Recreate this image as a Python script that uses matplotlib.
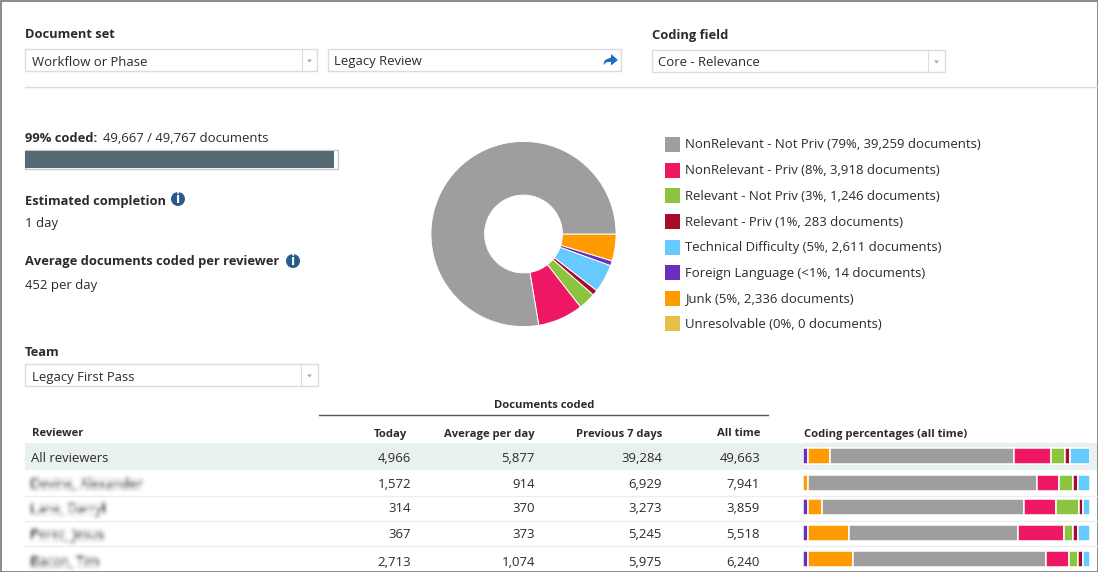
import numpy as np
import matplotlib
matplotlib.use("Agg")
import matplotlib.pyplot as plt
from matplotlib.patches import Rectangle, Circle, Polygon

plt.rcParams["font.family"] = ["Open Sans", "DejaVu Sans"]

W, H = 1098, 572
TEXT = "#2b2b2b"
LINE = "#d9dcdc"

# Legend / pie
CATEGORIES = ["NonRelevant - Not Priv", "NonRelevant - Priv", "Relevant - Not Priv",
              "Relevant - Priv", "Technical Difficulty", "Foreign Language", "Junk", "Unresolvable"]
CAT_NOTES = ["79%, 39,259 documents", "8%, 3,918 documents", "3%, 1,246 documents",
             "1%, 283 documents", "5%, 2,611 documents", "<1%, 14 documents",
             "5%, 2,336 documents", "0%, 0 documents"]
CAT_COLORS = ["#9e9e9e", "#ee1763", "#8bc540", "#a50d2a", "#66caff", "#6a2fbb", "#ff9b00", "#e3c148"]
# slice shares as drawn in the picture
PIE_SHARES = [77.4, 7.9, 3.0, 0.95, 4.9, 0.85, 4.7, 0.0]

# Table
REVIEWERS = ["All reviewers", "Devine, Alexander", "Lane, Darryl", "Perez, Jesus", "Bacon, Tim"]
TODAY = ["4,966", "1,572", "314", "367", "2,713"]
AVG_PER_DAY = ["5,877", "914", "370", "373", "1,074"]
PREV_7_DAYS = ["39,284", "6,929", "3,273", "5,245", "5,975"]
ALL_TIME = ["49,663", "7,941", "3,859", "5,518", "6,240"]

# Coding percentages per reviewer, drawn left to right in this order
SEG_ORDER = ["Foreign Language", "Junk", "NonRelevant - Not Priv", "NonRelevant - Priv",
             "Relevant - Not Priv", "Relevant - Priv", "Technical Difficulty"]
SEG_FOREIGN = [1.7, 0.0, 1.7, 1.7, 1.7]
SEG_JUNK = [7.8, 1.7, 4.8, 14.4, 15.7]
SEG_NOT_PRIV = [64.1, 79.7, 70.3, 58.9, 67.2]
SEG_PRIV = [12.7, 7.8, 11.3, 16.0, 8.1]
SEG_REL = [4.8, 4.8, 7.8, 3.0, 3.1]
SEG_REL_PRIV = [1.7, 1.7, 1.7, 1.7, 1.7]
SEG_TECH = [7.2, 4.2, 2.4, 4.2, 2.4]

ROW_TEXT_Y = [457, 483, 508, 534, 561]
ROW_BAR_Y = [456, 483, 507, 533, 559]


def gauss_filter(sigma, gain):
  """agg_filter that blurs the text it is set on, gain keeps the blob visible."""
  def _filter(image, dpi):
    pad = int(sigma * 3)
    x = np.arange(-pad, pad + 1)
    kernel = np.exp(-x**2 / (2.0 * sigma**2))
    kernel /= kernel.sum()
    out = np.pad(image, ((pad, pad), (pad, pad), (0, 0)))
    for axis in (0, 1):
      out = np.apply_along_axis(lambda m: np.convolve(m, kernel, mode="same"), axis, out)
    out[..., 3] = np.clip(out[..., 3] * gain, 0, 1)
    return out, -pad, -pad
  return _filter


def label(x, y, s, bold=False, ha="left", size=None, color=TEXT):
  # y is the visual middle of the line, text sits on a baseline so rows stay even
  if size is None:
    size = 9.3 if bold else 9.45
  return ax.text(x, y + 4.5, s, ha=ha, va="baseline", fontsize=size, color=color,
                 fontweight="bold" if bold else "normal")


def dropdown(x0, x1, y0, y1, text, divider=None, text_dy=0.0):
  ax.add_patch(Rectangle((x0, y0), x1 - x0, y1 - y0, fc="white", ec="#dcdcdc", lw=1.0))
  label(x0 + 6.5, (y0 + y1) / 2 + text_dy, text)
  if divider is not None:
    ax.plot([divider, divider], [y0, y1], color="#dcdcdc", lw=0.8)
    cx, cy = (divider + x1) / 2, (y0 + y1) / 2 + 0.5
    ax.add_patch(Polygon([(cx - 2.5, cy - 1), (cx + 2.5, cy - 1), (cx, cy + 2)], fc="#a8a8a8", ec="none"))


def info_icon(x, y):
  ax.add_patch(Circle((x, y), 7, fc="#2a5b8f", ec="none"))
  ax.text(x, y + 4, "i", ha="center", va="baseline", fontsize=10, color="white", fontweight="bold")


fig = plt.figure(figsize=(W / 100, H / 100), dpi=100)
ax = fig.add_axes([0, 0, 1, 1])
ax.set_xlim(0, W)
ax.set_ylim(H, 0)
ax.axis("off")

# window frame
ax.add_patch(Rectangle((0.5, 0.5), W - 1, H - 1, fc="none", ec="#777777", lw=1.2))

# filters
label(25, 34, "Document set", bold=True)
label(652, 34, "Coding field", bold=True)
dropdown(25, 317, 49, 71, "Workflow or Phase", divider=302, text_dy=1.5)
dropdown(328, 621, 49, 71, "Legacy Review")
dropdown(652, 945, 50, 72, "Core - Relevance", divider=928)
ax.add_patch(Polygon([(603, 65), (605, 60), (611, 57.5), (611, 54), (618, 60), (611, 65.5),
                      (611, 62), (607, 62)], fc="#1a6fc9", ec="none"))
ax.plot([25, W], [87, 87], color=LINE, lw=1.0)

# progress
label(25, 137, "99% coded:", bold=True)
label(103, 137, "49,667 / 49,767 documents")
ax.add_patch(Rectangle((25, 150), 313, 19, fc="white", ec="#c8c8c8", lw=1.0))
ax.add_patch(Rectangle((25, 151), 308.5, 17, fc="#556b73", ec="none"))

label(25, 200, "Estimated completion", bold=True)
info_icon(178, 199)
label(25, 223, "1 day")
label(25, 261, "Average documents coded per reviewer", bold=True)
info_icon(293, 261)
label(25, 284, "452 per day")

# donut, reversed so the orange slice leaves 3 o'clock going clockwise
pie_ax = fig.add_axes([(523.5 - 93.5) / W, 1 - (234 + 93.5) / H, 187 / W, 187 / H])
pie_ax.pie(PIE_SHARES[::-1], colors=CAT_COLORS[::-1], startangle=0, counterclock=False, radius=1.0,
           wedgeprops=dict(width=0.58, edgecolor="white", linewidth=0.7))
pie_ax.set_xlim(-1.01, 1.01)
pie_ax.set_ylim(-1.01, 1.01)

# legend
LEGEND_Y = [144, 170, 195, 221, 247, 272, 298, 323]
for name, note, col, y in zip(CATEGORIES, CAT_NOTES, CAT_COLORS, LEGEND_Y):
  ax.add_patch(Rectangle((665, y - 7.5), 15, 15, fc=col, ec="none"))
  label(685, y, f"{name} ({note})")

# team selector
label(25, 351, "Team", bold=True)
dropdown(25, 318, 364, 386, "Legacy First Pass", divider=301, text_dy=2.0)

# table header
ax.plot([319, 768], [414.5, 414.5], color="#555555", lw=1.0)
label(544, 404, "Documents coded", bold=True, ha="center", size=8.1)
label(32, 432, "Reviewer", bold=True, size=8.1)
COL_X = [407, 535, 662, 760]
for x, s in zip(COL_X, ["Today", "Average per day", "Previous 7 days", "All time"]):
  label(x, 432, s, bold=True, ha="right", size=8.1)
label(804, 432, "Coding percentages (all time)", bold=True, size=8.1)

# table body
ax.add_patch(Rectangle((25, 443), W - 26, 27, fc="#e9f1f0", ec="none"))
for y in [496, 521, 546]:
  ax.plot([25, W - 1], [y, y], color="#eeeeee", lw=1.0)
for i, name in enumerate(REVIEWERS):
  y = ROW_TEXT_Y[i]
  if i == 0:
    label(31, y, name)
  else:
    label(31, y, name, color="#5a5a5a").set_agg_filter(gauss_filter(2.2, 2.2))
  for x, col in zip(COL_X, [TODAY, AVG_PER_DAY, PREV_7_DAYS, ALL_TIME]):
    label(x + (4 if col is TODAY else 0), y, col[i], ha="right")

# coding percentage bars
bar_ax = fig.add_axes([803 / W, 0, 287.3 / W, 1])
bar_ax.set_xlim(0, 100)
bar_ax.set_ylim(H, 0)
bar_ax.axis("off")
bar_ax.patch.set_alpha(0)
left = np.zeros(len(REVIEWERS))
SEGMENTS = [SEG_FOREIGN, SEG_JUNK, SEG_NOT_PRIV, SEG_PRIV, SEG_REL, SEG_REL_PRIV, SEG_TECH]
for name, seg in zip(SEG_ORDER, SEGMENTS):
  col = CAT_COLORS[CATEGORIES.index(name)]
  bar_ax.barh(ROW_BAR_Y, seg, left=left, height=16.5, color=col, edgecolor="white", linewidth=1.1)
  left += np.array(seg)

fig.savefig("out.png", dpi=100)
